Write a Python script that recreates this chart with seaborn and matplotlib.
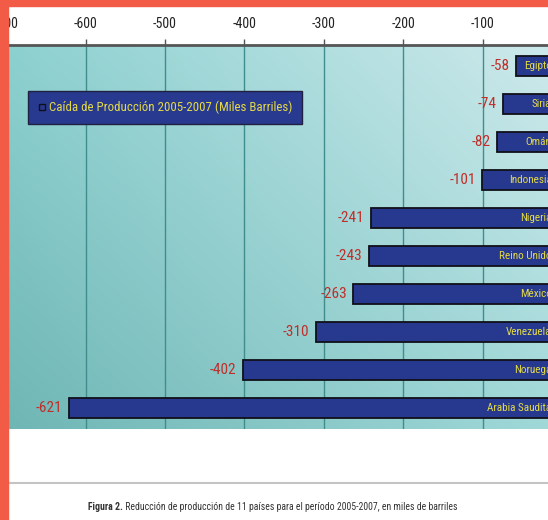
import numpy as np
import pandas as pd
import seaborn as sns
import matplotlib.pyplot as plt
from matplotlib import font_manager
from matplotlib.colors import to_rgb
from matplotlib.patches import Rectangle
from matplotlib.lines import Line2D

# datos
paises = ['Egipto', 'Siria', 'Omán', 'Indonesia', 'Nigeria', 'Reino Unido',
          'México', 'Venezuela', 'Noruega', 'Arabia Saudita']
caida = [-58, -74, -82, -101, -241, -243, -263, -310, -402, -621]
ticks = [-700, -600, -500, -400, -300, -200, -100, 0]
serie = 'Caída de Producción 2005-2007 (Miles Barriles)'
pie_bold = 'Figura 2.'
pie = ' Reducción de producción de 11 países para el período 2005-2007, en miles de barriles'

df = pd.DataFrame({'pais': paises, 'valor': caida})

# buscar una fuente estrecha si la hay
fuente, estiramiento = 'Liberation Sans', 'normal'
fl = font_manager.fontManager.ttflist
nombres = {f.name for f in fl}
for n in ['Liberation Sans Narrow', 'Roboto Condensed', 'Open Sans Condensed',
          'Noto Sans Condensed', 'Noto Sans Display Condensed']:
    if n in nombres:
        fuente = n
        break
else:
    for n in ['Roboto', 'Noto Sans', 'Open Sans', 'Liberation Sans', 'DejaVu Sans']:
        if any(f.name == n and f.stretch in ('condensed', 'semi-condensed')
               and f.style == 'normal' for f in fl):
            fuente, estiramiento = n, 'condensed'
            break

sns.set_style('white')
plt.rcParams['font.family'] = [fuente, 'DejaVu Sans']
plt.rcParams['font.stretch'] = estiramiento

W, H = 548, 520
fig = plt.figure(figsize=(W / 100, H / 100), dpi=100)
ax = fig.add_axes([0, 1 - 429 / H, 1, (429 - 45) / H])

# fondo degradado turquesa
tl, tr = np.array(to_rgb('#8CD0D0')), np.array(to_rgb('#CDE9EB'))
bl, br = np.array(to_rgb('#6EB6B4')), np.array(to_rgb('#A0D8D8'))
u = np.linspace(0, 1, 200)[None, :, None]
v = np.linspace(0, 1, 100)[:, None, None]
grad = (1 - v) * ((1 - u) * bl + u * br) + v * ((1 - u) * tl + u * tr)
ax.imshow(grad, extent=[0, 1, 0, 1], transform=ax.transAxes, origin='lower',
          aspect='auto', zorder=0)

sns.barplot(data=df, x='valor', y='pais', orient='h', color='#26398F',
            saturation=1, width=0.52, edgecolor='#101018', linewidth=1.3,
            ax=ax, zorder=3)

for i, (p, val) in enumerate(zip(paises, caida)):
    ax.annotate(str(val), xy=(val, i), xytext=(-4.5, 0), textcoords='offset points',
                ha='right', va='center', color='#BE2E2A', fontsize=11,
                annotation_clip=False)
    ax.annotate(p, xy=(0, i), xytext=(-7.5, 0), textcoords='offset points',
                ha='right', va='center', color='#E4DA48', fontsize=8,
                annotation_clip=False, zorder=5)

ax.xaxis.tick_top()
ax.set_xticks(ticks)
ax.set_xticklabels([str(t) for t in ticks], fontsize=10, color='#222222')
ax.tick_params(axis='x', direction='out', length=4, width=1, color='#555555', pad=6)
ax.set_xlim(-707.8, -17.6)
ax.set_ylim(9.55, -0.55)
ax.set_yticks([])
ax.set_xlabel('')
ax.set_ylabel('')
ax.set_axisbelow(True)
ax.grid(axis='x', color='#3F8D8D', lw=1)
ax.grid(axis='y', visible=False)
for s in ['left', 'right', 'bottom']:
    ax.spines[s].set_visible(False)
ax.spines['top'].set_color('#555555')
ax.spines['top'].set_linewidth(2)

mano = Line2D([], [], marker='s', ls='', markersize=5, markerfacecolor='#26398F',
              markeredgecolor='#101018', markeredgewidth=1)
leg = ax.legend([mano], [serie], loc='upper left', bbox_to_anchor=(28 / W, 1 - 91 / H),
                bbox_transform=fig.transFigure, borderaxespad=0, fontsize=9.3,
                handlelength=0.6, handletextpad=0.3, borderpad=0.75,
                facecolor='#283A90', edgecolor='#202040', framealpha=1,
                fancybox=False, labelcolor='#E4DA48')
leg.get_frame().set_linewidth(1)

# linea gris inferior y pie de figura
fig.add_artist(Line2D([8 / W, 1], [1 - 483 / H] * 2, color='#C4C4C4', lw=1.5))
t1 = fig.text(88 / W, 1 - 512 / H, pie_bold, fontsize=7, weight='bold',
              color='#333333', va='bottom')
ax.annotate(pie, xy=(1, 0), xycoords=t1, va='bottom', ha='left', fontsize=7,
            color='#333333', annotation_clip=False)

# borde naranja de la pagina
fig.add_artist(Rectangle((0, 0), 8 / W, 1, transform=fig.transFigure,
                         color='#F25C47', zorder=10))
fig.add_artist(Rectangle((0, 1 - 6 / H), 1, 6 / H, transform=fig.transFigure,
                         color='#F25C47', zorder=10))

fig.savefig('out.png', dpi=100)
